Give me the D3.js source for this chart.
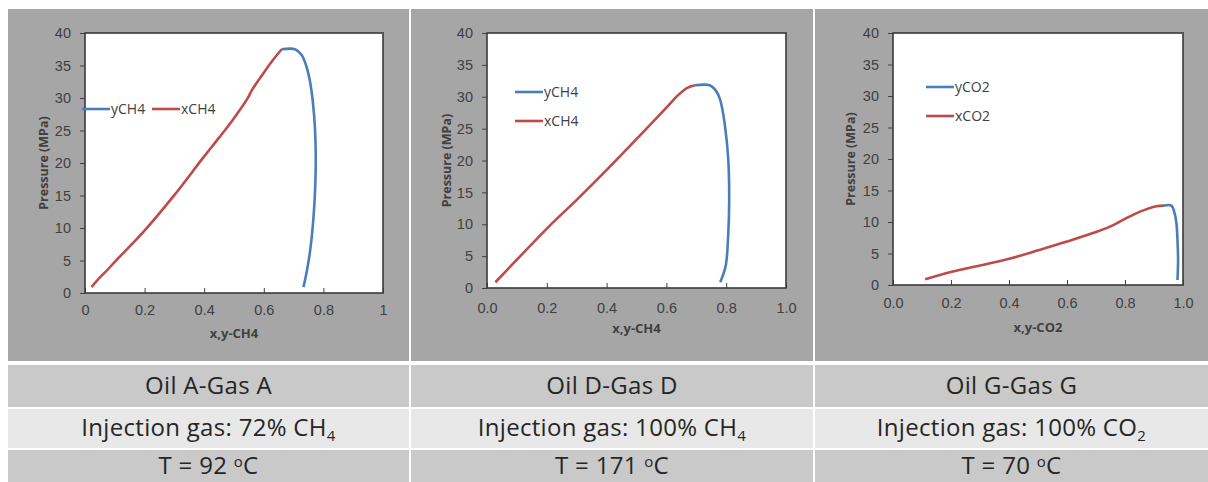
<!DOCTYPE html>
<html>
<head>
<meta charset="utf-8">
<title>Phase envelopes</title>
<script src="https://d3js.org/d3.v7.min.js"></script>
<style>
  body { margin: 0; background: #fff; }
  svg { display: block; font-family: "Open Sans", sans-serif; }
  .tick text { fill: #404040; font-size: 14.5px; }
  .tick line { stroke: #404040; }
</style>
</head>
<body>
<svg width="1208" height="482"></svg>
<script>
// ---- data ----
const xTicks = [0, 0.2, 0.4, 0.6, 0.8, 1];
const yTicks = [0, 5, 10, 15, 20, 25, 30, 35, 40];

// Oil A-Gas A
const aLiquid = [[0.022,0.9],[0.05,2.4],[0.068,3.2],[0.1,4.8],[0.196,9.4],[0.297,14.9],[0.398,20.9],
  [0.45,23.9],[0.5,26.9],[0.545,29.9],[0.56,31.2],[0.6,33.9],[0.63,35.8],[0.66,37.5]];
const aVapour = [[0.66,37.5],[0.705,37.5],[0.727,36.6],[0.742,35.0],[0.756,32.3],[0.769,27.2],
  [0.774,22.1],[0.773,16.9],[0.767,11.8],[0.756,6.7],[0.745,3.5],[0.733,0.9]];

// Oil D-Gas D
const dLiquid = [[0.028,0.9],[0.095,4.2],[0.206,9.6],[0.306,14.1],[0.406,18.8],[0.507,23.7],
  [0.6,28.3],[0.64,30.3],[0.67,31.4],[0.695,31.8]];
const dVapour = [[0.695,31.8],[0.745,31.8],[0.765,31.0],[0.78,29.5],[0.796,25.4],[0.807,20.1],
  [0.81,13.9],[0.807,8.6],[0.798,3.4],[0.78,0.9]];

// Oil G-Gas G
const gLiquid = [[0.111,0.9],[0.203,2.1],[0.3,3.1],[0.404,4.2],[0.5,5.5],[0.6,6.9],[0.7,8.4],
  [0.75,9.3],[0.8,10.5],[0.85,11.6],[0.908,12.5],[0.935,12.6]];
const gVapour = [[0.935,12.6],[0.96,12.6],[0.971,11.4],[0.978,9.5],[0.981,7.0],[0.983,4.0],[0.981,0.8]];

const caseNames = ["Oil A-Gas A", "Oil D-Gas D", "Oil G-Gas G"];
const gasShare = ["72%", "100%", "100%"];
const gasName = [["CH", "4"], ["CH", "4"], ["CO", "2"]];
const temps = ["92", "171", "70"];

// ---- layout ----
const svg = d3.select("svg");
const blue = "#4a7ebb", red = "#be4b48";

const panels = [
  { x0: 8, x1: 409, plot: [85, 33, 383, 293], fmt: d3.format(""), xlabPad: 12, xTitleY: 338,
    vap: aVapour, liq: aLiquid, xTitle: "x,y-CH4", names: ["yCH4", "xCH4"],
    legend: "row", leg: [82, 109] },
  { x0: 411, x1: 813, plot: [487, 33, 786, 288], fmt: d3.format(".1f"), xlabPad: 15, xTitleY: 333,
    vap: dVapour, liq: dLiquid, xTitle: "x,y-CH4", names: ["yCH4", "xCH4"],
    legend: "col", leg: [515, 92] },
  { x0: 815, x1: 1208, plot: [893, 33, 1183, 285], fmt: d3.format(".1f"), xlabPad: 13, xTitleY: 332,
    vap: gVapour, liq: gLiquid, xTitle: "x,y-CO2", names: ["yCO2", "xCO2"],
    legend: "col", leg: [926, 87] }
];

panels.forEach(function(p, i) {
  const g = svg.append("g");
  g.append("rect").attr("x", p.x0).attr("y", 9).attr("width", p.x1 - p.x0).attr("height", 352)
    .attr("fill", "#a6a6a6");

  const [l, t, r, b] = p.plot;
  const x = d3.scaleLinear().domain([0, 1]).range([l, r]);
  const y = d3.scaleLinear().domain([0, 40]).range([b, t]);

  g.append("rect").attr("x", l).attr("y", t).attr("width", r - l).attr("height", b - t)
    .attr("fill", "#fff");

  const ya = g.append("g").attr("transform", "translate(" + l + ",0)")
    .call(d3.axisLeft(y).tickValues(yTicks).tickSize(5).tickPadding(9));
  ya.select(".domain").remove();

  const xa = g.append("g").attr("transform", "translate(0," + b + ")")
    .call(d3.axisBottom(x).tickValues(xTicks).tickFormat(p.fmt).tickSizeInner(-5).tickSizeOuter(0).tickPadding(p.xlabPad));
  xa.select(".domain").remove();

  g.append("rect").attr("x", l).attr("y", t).attr("width", r - l).attr("height", b - t)
    .attr("fill", "none").attr("stroke", "#3a3a3a").attr("stroke-width", 1.6);

  const line = d3.line().x(d => x(d[0])).y(d => y(d[1])).curve(d3.curveCatmullRom);
  g.append("path").datum(p.liq).attr("d", line).attr("fill", "none")
    .attr("stroke", red).attr("stroke-width", 2.6);
  g.append("path").datum(p.vap).attr("d", line).attr("fill", "none")
    .attr("stroke", blue).attr("stroke-width", 2.6);

  // axis titles
  g.append("text").attr("x", (l + r) / 2).attr("y", p.xTitleY).attr("text-anchor", "middle")
    .attr("font-size", 13).attr("font-weight", "bold").attr("fill", "#404040").text(p.xTitle);
  g.append("text").attr("transform", "translate(" + (p.x0 + 36) + "," + (t + b) / 2 + ") rotate(-90)")
    .attr("text-anchor", "middle").attr("dy", "0.35em")
    .attr("font-size", 12.5).attr("font-weight", "bold").attr("fill", "#404040").text("Pressure (MPa)");

  // legend
  const cols = [blue, red];
  p.names.forEach(function(n, k) {
    const lx = p.legend === "row" ? p.leg[0] + k * 70 : p.leg[0];
    const ly = p.legend === "row" ? p.leg[1] : p.leg[1] + k * 29;
    g.append("line").attr("x1", lx).attr("x2", lx + 28).attr("y1", ly).attr("y2", ly)
      .attr("stroke", cols[k]).attr("stroke-width", 2.6);
    g.append("text").attr("x", lx + 29).attr("y", ly).attr("dy", "0.35em")
      .attr("font-size", 14).attr("fill", "#404040").text(n);
  });

  // table rows under each chart
  const cx = (p.x0 + p.x1) / 2, w = p.x1 - p.x0;
  const rows = [[365, 407, "#c9c9c9"], [409, 448, "#e8e8e8"], [450, 482, "#c9c9c9"]];
  rows.forEach(rw => g.append("rect").attr("x", p.x0).attr("y", rw[0]).attr("width", w)
    .attr("height", rw[1] - rw[0]).attr("fill", rw[2]));

  const ts = { "font-size": 24, "letter-spacing": 0.3, fill: "#262626", "text-anchor": "middle" };
  const t1 = g.append("text").attr("x", cx).attr("y", 386).attr("dy", "0.35em").text(caseNames[i]);
  const t2 = g.append("text").attr("x", cx).attr("y", 428).attr("dy", "0.35em");
  t2.append("tspan").text("Injection gas: " + gasShare[i] + " " + gasName[i][0]);
  t2.append("tspan").attr("font-size", 15).attr("dy", 5).text(gasName[i][1]);
  const t3 = g.append("text").attr("x", cx).attr("y", 466).attr("dy", "0.35em");
  t3.append("tspan").text("T = " + temps[i] + " ");
  t3.append("tspan").attr("font-size", 15).attr("dy", -7).text("o");
  t3.append("tspan").attr("dy", 7).text("C");
  [t1, t2, t3].forEach(tt => Object.entries(ts).forEach(([k, v]) => tt.attr(k, v)));
});
</script>
</body>
</html>
